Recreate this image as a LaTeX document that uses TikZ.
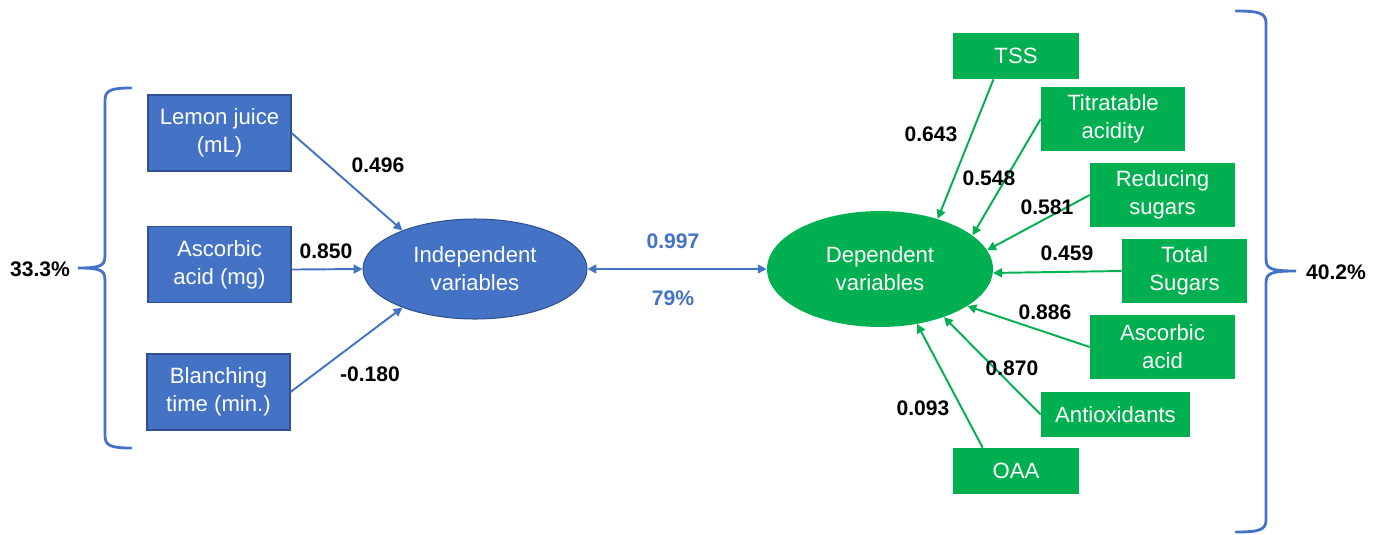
\documentclass[tikz,border=0pt]{standalone}
\usepackage{fontspec}
\setmainfont{Liberation Sans}
\usetikzlibrary{arrows.meta}
\usetikzlibrary{shapes.geometric}

\definecolor{pblue}{HTML}{4472C4}
\definecolor{pbluedark}{HTML}{2F528F}
\definecolor{pgreen}{HTML}{00B050}

\tikzset{
  boxfont/.style={font=\fontsize{12.6}{15.9}\selectfont},
  bluebox/.style={boxfont, draw=pbluedark, fill=pblue, text=white, align=center,
    minimum width=2.86cm, minimum height=1.52cm, inner sep=0pt, line width=0.6pt},
  greenbox/.style={boxfont, fill=pgreen, text=white, align=center, inner sep=0pt},
  coef/.style={font=\fontsize{12}{14}\selectfont\bfseries},
  bluearr/.style={draw=pblue, line width=1.1pt, -{Triangle[length=5pt,width=5pt]}},
  greenarr/.style={draw=pgreen, line width=1.1pt, -{Triangle[length=5pt,width=5pt]}},
  bracket/.style={draw=pblue, line width=1.6pt, line cap=round}
}

\begin{document}
\begin{tikzpicture}[x=0.02cm, y=-0.02cm]
  \useasboundingbox (0,0) rectangle (1381,534);

  % linke Seite
  \node[bluebox] (lemon) at (219.5,133) {Lemon juice\\(mL)};
  \node[bluebox] (ascl) at (219.5,264.5) {Ascorbic\\acid (mg)};
  \node[bluebox] (blanch) at (218.5,392) {Blanching\\time (min.)};
  \node[boxfont, ellipse, fill=pblue, draw=pbluedark, line width=0.6pt, text=white,
    align=center, minimum width=4.48cm, minimum height=2cm, inner sep=0pt]
    (indep) at (475,269) {Independent\\variables};

  % rechte Seite
  \node[boxfont, ellipse, fill=pgreen, text=white, align=center,
    minimum width=4.52cm, minimum height=2.32cm, inner sep=0pt]
    (dep) at (880,269) {Dependent\\variables};
  \node[greenbox, minimum width=2.52cm, minimum height=0.92cm] (tss) at (1016,56) {TSS};
  \node[greenbox, minimum width=2.88cm, minimum height=1.28cm] (titr) at (1113,119) {Titratable\\acidity};
  \node[greenbox, minimum width=2.9cm, minimum height=1.28cm] (redsug) at (1162.5,195) {Reducing\\sugars};
  \node[greenbox, minimum width=2.5cm, minimum height=1.28cm] (totsug) at (1184.5,271) {Total\\Sugars};
  \node[greenbox, minimum width=2.9cm, minimum height=1.28cm] (ascr) at (1162.5,347) {Ascorbic\\acid};
  \node[greenbox, minimum width=2.98cm, minimum height=0.9cm] (antiox) at (1115.5,414.5) {Antioxidants};
  \node[greenbox, minimum width=2.52cm, minimum height=0.92cm] (oaa) at (1016,471) {OAA};

  % Pfeile
  \draw[bluearr] (lemon.east) -- (indep.152);
  \draw[bluearr] (ascl.-4) -- (indep.west);
  \draw[bluearr] (blanch.east) -- (indep.208);
  \draw[bluearr, {Triangle[length=5pt,width=5pt]}-{Triangle[length=5pt,width=5pt]}] (indep.east) -- (dep.west);

  \draw[greenarr] (tss.226) -- (dep.41);
  \draw[greenarr] (titr.west) -- (dep.20);
  \draw[greenarr] (redsug.west) -- (dep.10);
  \draw[greenarr] (totsug.west) -- (dep.-2);
  \draw[greenarr] (ascr.west) -- (dep.-23);
  \draw[greenarr] (antiox.west) -- (dep.-37);
  \draw[greenarr] (oaa.145) -- (dep.-56);

  % Koeffizienten
  \node[coef] (c1) at (378,165) {0.496};
  \node[coef] (c2) at (326,251) {0.850};
  \node[coef] (c3) at (370,374) {-0.180};
  \node[coef, text=pblue] (c4) at (673,241) {0.997};
  \node[coef, text=pblue] (c5) at (673,298) {79\%};
  \node[coef] (c6) at (931,134) {0.643};
  \node[coef] (c7) at (989,178) {0.548};
  \node[coef] (c8) at (1047,207) {0.581};
  \node[coef] (c9) at (1067,253) {0.459};
  \node[coef] (c10) at (1045,312) {0.886};
  \node[coef] (c11) at (1012,368) {0.870};
  \node[coef] (c12) at (923,408) {0.093};

  % Klammern
  \draw[bracket] (131,88) .. controls (112,88) and (105,90) .. (105,100) -- (105,256)
    .. controls (105,266) and (100,268) .. (78,268)
    .. controls (100,268) and (105,270) .. (105,280) -- (105,436)
    .. controls (105,446) and (112,448) .. (131,448);
  \node[coef] (left) at (40,269) {33.3\%};
  \draw[bracket] (1236,11) .. controls (1259,11) and (1266,13) .. (1266,23) -- (1266,259)
    .. controls (1266,269) and (1271,271) .. (1296,271)
    .. controls (1271,271) and (1266,273) .. (1266,283) -- (1266,520)
    .. controls (1266,530) and (1259,532) .. (1236,532);
  \node[coef] (right) at (1336,272) {40.2\%};
\end{tikzpicture}
\end{document}
